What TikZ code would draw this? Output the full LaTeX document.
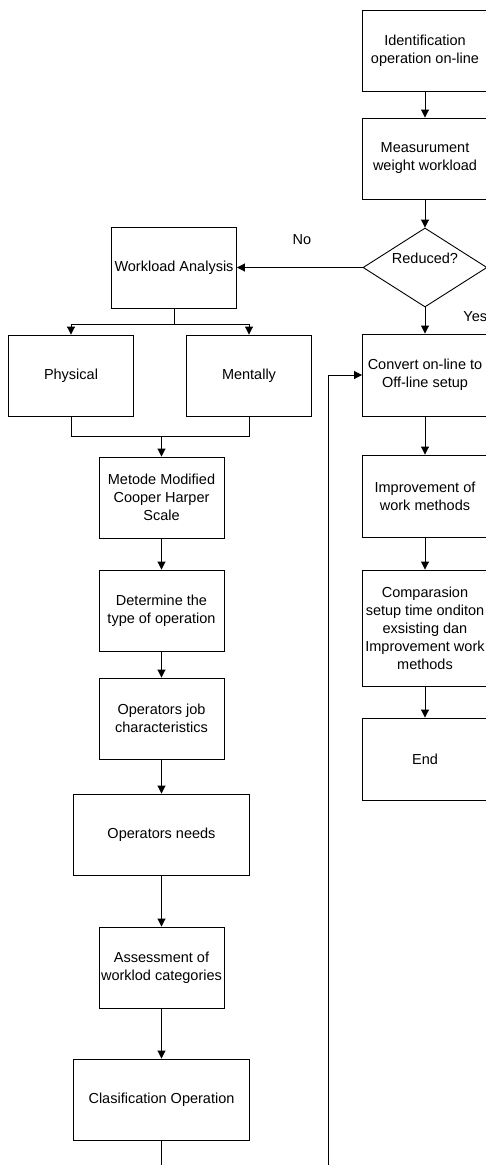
\documentclass[tikz,border=0pt]{standalone}
\usepackage{fontspec}
\setmainfont{Liberation Sans}
\usepackage{tikz}
\usetikzlibrary{positioning,arrows.meta,shapes,calc}

\begin{document}
\begin{tikzpicture}[x=1pt,y=-1pt,line width=0.9pt,
        every node/.style={font=\fontsize{14.5}{18}\selectfont,align=center,inner sep=0pt},
        box/.style={draw,minimum width=125pt,minimum height=81pt},
        widebox/.style={draw,minimum width=176pt,minimum height=81pt},
        decision/.style={draw,diamond,minimum width=124pt,minimum height=79pt},
        flow/.style={-{Triangle[length=8pt,width=8pt]}}]
        \useasboundingbox (0,0) rectangle (486,1165);
        \node[box] (ident) at (425,51) {Identification\\operation on-line};
        \node[box] (meas) at (425,158.5) {Measurument\\weight workload};
        \node[decision] (reduced) at (425,267.5) {\raisebox{9pt}[\height][\depth]{Reduced?}};
        \node[box,minimum height=82pt] (conv) at (425,375) {Convert on-line to\\Off-line setup};
        \node[box,minimum height=82pt] (impr) at (425,496) {Improvement of\\work methods};
        \node[box,minimum height=116pt] (comp) at (425,628) {Comparasion\\setup time onditon\\exsisting dan\\Improvement work\\methods};
        \node[box,minimum height=82pt] (endn) at (425,759) {End};
        \node[box] (wla) at (174,267.5) {Workload Analysis};
        \node[box] (phys) at (71,375.5) {Physical};
        \node[box] (ment) at (249,375.5) {Mentally};
        \node[box] (metode) at (161.5,497.5) {Metode Modified\\Cooper Harper\\Scale};
        \node[box] (determ) at (161.5,610.5) {Determine the\\type of operation};
        \node[box] (opjob) at (161.5,718.5) {Operators job\\characteristics};
        \node[widebox] (opneed) at (161.5,834.5) {Operators needs};
        \node[box] (assess) at (161.5,967.5) {Assessment of\\worklod categories};
        \node[widebox] (clasif) at (161.5,1099.5) {Clasification Operation};
        \node (no) at (302,240) {No};
        \node[anchor=west] (yes) at (463,317) {Yes};
        \coordinate (split) at (174,324);
        \coordinate (merge) at (161.5,436);
        \coordinate (out) at (161.5,1170);
        \coordinate (back) at (328,1170);
        \draw[flow] (ident) -- (meas);
        \draw[flow] (meas) -- (reduced);
        \draw[flow] (reduced) -- (wla);
        \draw[flow] (reduced) -- (conv);
        \draw (wla) -- (split);
        \draw[flow] (split) -| (phys);
        \draw[flow] (split) -| (ment);
        \draw (phys) |- (merge);
        \draw (ment) |- (merge);
        \draw[flow] (merge) -- (metode);
        \draw[flow] (metode) -- (determ);
        \draw[flow] (determ) -- (opjob);
        \draw[flow] (opjob) -- (opneed);
        \draw[flow] (opneed) -- (assess);
        \draw[flow] (assess) -- (clasif);
        \draw (clasif) -- (out);
        \draw[flow] (back) |- (conv);
        \draw[flow] (conv) -- (impr);
        \draw[flow] (impr) -- (comp);
        \draw[flow] (comp) -- (endn);
    \end{tikzpicture}
\end{document}
